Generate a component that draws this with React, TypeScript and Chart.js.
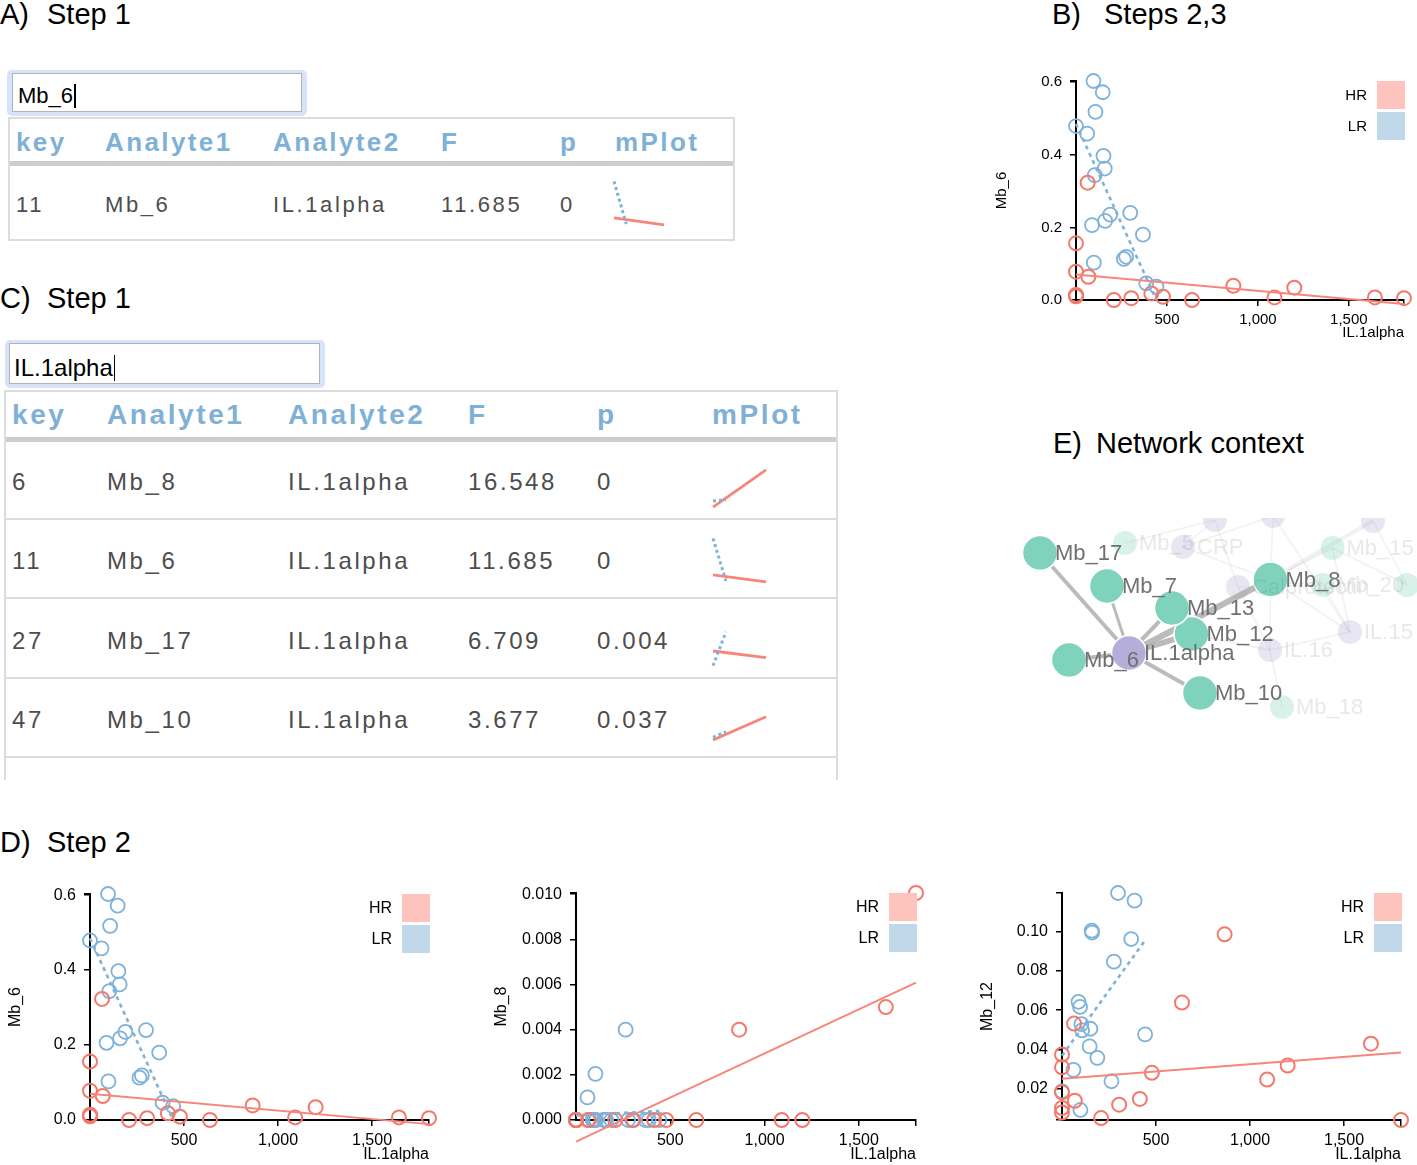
import React, { useEffect, useRef } from "react";
import { Chart, registerables } from "chart.js";
Chart.register(...registerables);

const FONT = '"Liberation Sans", Arial, Helvetica, sans-serif';
const HR_COLOR = "#f5796b";
const HR_LINE = "#f7857a";
const LR_COLOR = "#7fb2d9";
const HR_LEGEND = "#ffc3bd";
const LR_LEGEND = "#c1d7ea";

// ---------- scatter data: IL.1alpha (x) vs analytes, by group ----------
const IL1ALPHA_HR = [64, 0, 0, 68, 0, 0, 0, 208, 304, 414, 478, 638, 865, 1091, 1200, 1643, 1803];
const MB6_HR = [0.323, 0.156, 0.078, 0.064, 0.014, 0.012, 0.01, 0.0, 0.005, 0.018, 0.009, 0.0, 0.039, 0.007, 0.034, 0.007, 0.005];
const MB8_HR = [0, 0, 0, 0, 0, 0, 0, 0, 0, 0, 0, 0, 0.004, 0, 0, 0.005, 0.01005];
const MB12_HR = [0.0532, 0.0375, 0.031, 0.014, 0.0183, 0.0103, 0.008, 0.0052, 0.012, 0.0149, 0.0282, 0.0639, 0.0986, 0.0248, 0.0319, 0.043, 0.0042];

const IL1ALPHA_LR = [96, 147, 107, 0, 61, 151, 158, 103, 88, 160, 188, 298, 368, 263, 276, 98, 386, 442];
const MB6_LR = [0.603, 0.572, 0.518, 0.479, 0.458, 0.397, 0.362, 0.344, 0.206, 0.218, 0.235, 0.24, 0.18, 0.113, 0.119, 0.103, 0.046, 0.037];
const MB8_LR = [0, 0, 0, 0, 0.001, 0, 0, 0.00204, 0, 0, 0, 0, 0, 0.004, 0, 0, 0, 0];
const MB12_LR = [0.0617, 0.0416, 0.0498, 0.0188, 0.0297, 0.0506, 0.1005, 0.0529, 0.0643, 0.0995, 0.0358, 0.1196, 0.0962, 0.0239, 0.0847, 0.0093, 0.1157, 0.0477];

// regression lines (value at the low / high end of each group's IL.1alpha range)
const MB6_HR_FIT = [0.07, -0.011];
const MB6_LR_FIT = [0.485, 0.0];
const MB8_HR_FIT = [-0.00096, 0.00608];
const MB8_LR_FIT = [0.0002, 0.0004];
const MB12_HR_FIT = [0.0252, 0.0385];
const MB12_LR_FIT = [0.0369, 0.0955];
const MB17_HR_FIT = [0.17, 0.045];
const MB17_LR_FIT = [-0.11, 0.53];
const MB10_HR_FIT = [0.0, 0.44];
const MB10_LR_FIT = [0.05, 0.157];
const MB17_RANGE = [0, 1];
const MB10_RANGE = [0, 1];

// ticks
const X_TICKS = [500, 1000, 1500];
const MB6_TICKS = [0, 0.2, 0.4, 0.6];
const MB8_TICKS = [0, 0.002, 0.004, 0.006, 0.008, 0.01];
const MB12_TICKS = [0.02, 0.04, 0.06, 0.08, 0.1];

// ---------- tables ----------
const HEADERS = ["key", "Analyte1", "Analyte2", "F", "p", "mPlot"];
const A_ROW = ["11", "Mb_6", "IL.1alpha", "11.685", "0"];
const C_KEYS = ["6", "11", "27", "47"];
const C_ANALYTE1 = ["Mb_8", "Mb_6", "Mb_17", "Mb_10"];
const C_ANALYTE2 = ["IL.1alpha", "IL.1alpha", "IL.1alpha", "IL.1alpha"];
const C_F = ["16.548", "11.685", "6.709", "3.677"];
const C_P = ["0", "0", "0.004", "0.037"];

// ---------- network ----------
const NET_NODES = ["Mb_17", "Mb_7", "Mb_6", "IL.1alpha", "Mb_12", "Mb_13", "Mb_8", "Mb_10"];
const NET_X = [23, 90, 52, 112, 174.5, 155, 253.5, 183];
const NET_Y = [35, 68, 142, 135, 116, 90, 61.5, 175];
const NET_IS_IL = [false, false, false, true, false, false, false, false];
const NET_EDGE_TO = ["Mb_17", "Mb_7", "Mb_6", "Mb_13", "Mb_12", "Mb_8", "Mb_10"];
const NET_EDGE_W = [4, 3, 4, 4, 6, 6, 4];
const BG_IDS = ["Mb_5", "CRP", "n1", "n2", "n3", "Mb_15", "Calprotectin", "Mb_20", "n4", "IL.15", "IL.16", "Mb_18"];
const BG_LABELS = ["Mb_5", "CRP", "", "", "", "Mb_15", "Calprotectin", "Mb_20", "", "IL.15", "IL.16", "Mb_18"];
const BG_X = [108, 166, 198, 256, 356, 315.5, 221, 306, 390, 333, 253, 265];
const BG_Y = [25, 29, 2, -2, 3, 30, 69, 67, 67, 114, 132, 189];
const BG_IS_IL = [false, true, true, true, true, false, true, false, false, true, true, false];
const BG_EDGES = [
  ["CRP", "n1"], ["CRP", "n2"], ["CRP", "Mb_8"], ["n1", "Calprotectin"], ["n2", "Mb_8"],
  ["Mb_8", "n3"], ["Mb_8", "Mb_15"], ["Mb_8", "IL.15"], ["Mb_8", "IL.16"], ["Calprotectin", "IL.16"],
  ["Calprotectin", "Mb_20"], ["Mb_20", "IL.15"], ["Mb_15", "n4"], ["n3", "n4"], ["IL.16", "Mb_18"],
  ["IL.16", "IL.15"], ["Mb_12", "IL.16"], ["n2", "IL.15"], ["Mb_15", "IL.15"], ["Mb_5", "n1"],
];
const BG_EDGE_W = [1.5, 1.5, 1.5, 1.5, 1.5, 4, 1.5, 1.5, 1.5, 1.5, 1.5, 1.5, 1.5, 1.5, 1.5, 1.5, 2, 1.5, 1.5, 1.5];

const HR_RANGE = [Math.min(...IL1ALPHA_HR), Math.max(...IL1ALPHA_HR)];
const LR_RANGE = [Math.min(...IL1ALPHA_LR), Math.max(...IL1ALPHA_LR)];

const pts = (xs: number[], ys: number[]) => xs.map((x, i) => ({ x, y: ys[i] }));
const fitPts = (range: number[], ys: number[]) => [{ x: range[0], y: ys[0] }, { x: range[1], y: ys[1] }];
const near = (list: number[], v: number) => list.some((t) => Math.abs(t - v) < 1e-9);

function ScatterPanel(p: any) {
  const ref = useRef<HTMLCanvasElement>(null);
  const PL = 110, PR = 20, PT = 20, PB = 60;
  const L = Math.round(p.left), T = Math.round(p.top);
  const W = Math.round(p.right - p.left) + PL + PR;
  const H = Math.round(p.bottom - p.top) + PT + PB;
  useEffect(() => {
    const allX = [...IL1ALPHA_HR, ...IL1ALPHA_LR];
    const allY = [...p.hrY, ...p.lrY];
    const xMin = Math.min(...allX), xMax = Math.max(...allX);
    const yMin = Math.min(...allY), yMax = Math.max(...allY);
    const fs = p.fs;
    const decor = {
      id: "decor",
      afterDraw(chart: any) {
        const { ctx, chartArea: a } = chart;
        ctx.save();
        ctx.fillStyle = "#000";
        ctx.font = `${fs}px ${FONT}`;
        ctx.save();
        ctx.translate(a.left - 74, (a.top + a.bottom) / 2);
        ctx.rotate(-Math.PI / 2);
        ctx.textAlign = "center";
        ctx.textBaseline = "middle";
        ctx.fillText(p.yLabel, 0, 0);
        ctx.restore();
        ctx.textAlign = "right";
        ctx.textBaseline = "middle";
        ctx.fillText("IL.1alpha", a.right, a.bottom + p.xTitleDy);
        const sq = 28;
        const sx = a.right - sq + 1;
        const items: [string, string][] = [["HR", HR_LEGEND], ["LR", LR_LEGEND]];
        items.forEach(([lab, col], i) => {
          const sy = a.top + i * (sq + 3);
          ctx.fillStyle = col;
          ctx.fillRect(sx, sy, sq, sq);
          ctx.fillStyle = "#000";
          ctx.textAlign = "right";
          ctx.fillText(lab, sx - 10, sy + sq / 2 + 1);
        });
        ctx.restore();
      },
    };
    const chart = new Chart(ref.current as HTMLCanvasElement, {
      type: "scatter",
      data: {
        datasets: [
          { data: fitPts(LR_RANGE, p.lrFit), showLine: true, borderColor: LR_COLOR, borderWidth: 2.6, borderDash: [4, 4], pointRadius: 0, clip: false } as any,
          { data: fitPts(HR_RANGE, p.hrFit), showLine: true, borderColor: HR_LINE, borderWidth: 2, pointRadius: 0, clip: false } as any,
          { data: pts(IL1ALPHA_HR, p.hrY), pointRadius: 7, pointBorderWidth: 2, pointBorderColor: HR_COLOR, pointBackgroundColor: "rgba(0,0,0,0)", clip: false } as any,
          { data: pts(IL1ALPHA_LR, p.lrY), pointRadius: 7, pointBorderWidth: 1.8, pointBorderColor: LR_COLOR, pointBackgroundColor: "rgba(0,0,0,0)", clip: false } as any,
        ],
      },
      options: {
        animation: false,
        responsive: false,
        devicePixelRatio: 1,
        events: [],
        layout: { padding: { left: 0, top: PT, right: PR, bottom: 0 }, autoPadding: false } as any,
        plugins: { legend: { display: false }, tooltip: { enabled: false } },
        scales: {
          x: {
            type: "linear",
            position: "bottom",
            min: xMin,
            max: xMax,
            afterBuildTicks: (ax: any) => { ax.ticks = [...X_TICKS, xMax].map((v) => ({ value: v })); },
            afterFit: (ax: any) => { ax.height = PB; },
            ticks: {
              autoSkip: false, maxRotation: 0, padding: 5, color: "#000",
              font: { family: FONT, size: fs },
              callback: (v: any) => (near(X_TICKS, v) ? Number(v).toLocaleString("en-US") : ""),
            },
            grid: { drawOnChartArea: false, drawTicks: true, tickLength: 6, color: "#000", lineWidth: 1.5 },
            border: { display: true, color: "#000", width: 2 },
          } as any,
          y: {
            type: "linear",
            position: "left",
            min: yMin,
            max: yMax,
            afterBuildTicks: (ax: any) => { ax.ticks = [yMin, ...p.yTicks.filter((t: number) => t > yMin + 1e-9), yMax].map((v) => ({ value: v })); },
            afterFit: (ax: any) => { ax.width = PL; },
            ticks: {
              autoSkip: false, padding: 8, color: "#000",
              font: { family: FONT, size: fs },
              callback: (v: any) => (near(p.yTicks, v) ? Number(v).toFixed(p.digits) : ""),
            },
            grid: { drawOnChartArea: false, drawTicks: true, tickLength: 6, color: "#000", lineWidth: 1.5 },
            border: { display: true, color: "#000", width: 2 },
          } as any,
        },
      },
      plugins: [decor],
    } as any);
    return () => chart.destroy();
  }, []);
  return <canvas ref={ref} width={W} height={H} style={{ position: "absolute", left: L - PL, top: T - PT, width: W, height: H }} />;
}

function MiniPlot(p: any) {
  const ref = useRef<HTMLCanvasElement>(null);
  const P = 12;
  useEffect(() => {
    const chart = new Chart(ref.current as HTMLCanvasElement, {
      type: "scatter",
      data: {
        datasets: [
          { data: fitPts(LR_RANGE, p.lrFit), showLine: true, borderColor: LR_COLOR, borderWidth: 3, borderDash: [3, 3], pointRadius: 0, clip: false } as any,
          { data: fitPts(HR_RANGE, p.hrFit), showLine: true, borderColor: HR_LINE, borderWidth: 2.8, pointRadius: 0, clip: false } as any,
        ],
      },
      options: {
        animation: false, responsive: false, devicePixelRatio: 1, events: [],
        layout: { padding: P, autoPadding: false } as any,
        scales: {
          x: { type: "linear", min: HR_RANGE[0], max: HR_RANGE[1], display: false },
          y: { type: "linear", min: p.yMin, max: p.yMax, display: false },
        },
        plugins: { legend: { display: false }, tooltip: { enabled: false } },
      },
    } as any);
    return () => chart.destroy();
  }, []);
  return <canvas ref={ref} width={p.width + 2 * P} height={p.height + 2 * P} style={{ position: "absolute", left: p.left - P, top: p.top - P }} />;
}

function Network() {
  const ref = useRef<HTMLCanvasElement>(null);
  useEffect(() => {
    const pos: Record<string, { x: number; y: number }> = {};
    NET_NODES.forEach((n, i) => (pos[n] = { x: NET_X[i], y: NET_Y[i] }));
    BG_IDS.forEach((n, i) => (pos[n] = { x: BG_X[i], y: BG_Y[i] }));
    const datasets: any[] = [];
    datasets.push({
      data: pts(NET_X, NET_Y), order: 0, pointRadius: 17.5, pointBorderWidth: 1.5, pointBorderColor: "#ffffff",
      pointBackgroundColor: NET_IS_IL.map((il) => (il ? "#b5aed9" : "#7fd3bc")),
    });
    NET_EDGE_TO.forEach((to, i) => {
      datasets.push({ data: [pos["IL.1alpha"], pos[to]], order: 1, showLine: true, pointRadius: 0, borderWidth: NET_EDGE_W[i], borderColor: "rgba(170,170,170,0.8)" });
    });
    datasets.push({
      data: pts(BG_X, BG_Y), order: 2, pointRadius: 12, pointBorderWidth: 0,
      pointBackgroundColor: BG_IS_IL.map((il) => (il ? "rgba(180,172,214,0.3)" : "rgba(127,211,187,0.3)")),
    });
    BG_EDGES.forEach(([a, b], i) => {
      datasets.push({ data: [pos[a], pos[b]], order: 3, showLine: true, pointRadius: 0, borderWidth: BG_EDGE_W[i], borderColor: "rgba(160,160,160,0.15)" });
    });
    const labels = {
      id: "netLabels",
      afterDatasetsDraw(chart: any) {
        const { ctx } = chart;
        const sx = chart.scales.x, sy = chart.scales.y;
        ctx.save();
        ctx.font = `22px ${FONT}`;
        ctx.textAlign = "left";
        ctx.textBaseline = "middle";
        ctx.fillStyle = "rgba(110,110,110,0.16)";
        BG_LABELS.forEach((l, i) => {
          if (!l) return;
          ctx.fillText(l, sx.getPixelForValue(BG_X[i]) + 14, sy.getPixelForValue(BG_Y[i]) + 1);
        });
        ctx.fillStyle = "#707070";
        NET_NODES.forEach((l, i) => {
          ctx.fillText(l, sx.getPixelForValue(NET_X[i]) + 15, sy.getPixelForValue(NET_Y[i]) + 1);
        });
        ctx.restore();
      },
    };
    const chart = new Chart(ref.current as HTMLCanvasElement, {
      type: "scatter",
      data: { datasets },
      options: {
        animation: false, responsive: false, devicePixelRatio: 1, events: [],
        layout: { padding: 0, autoPadding: false } as any,
        scales: {
          x: { type: "linear", min: 0, max: 400, display: false },
          y: { type: "linear", min: 0, max: 215, reverse: true, display: false },
        },
        plugins: { legend: { display: false }, tooltip: { enabled: false } },
      },
      plugins: [labels],
    } as any);
    return () => chart.destroy();
  }, []);
  return <canvas ref={ref} width={400} height={215} style={{ position: "absolute", left: 1017, top: 518 }} />;
}

function Txt(p: any) {
  const size = p.size;
  return (
    <div
      style={{
        position: "absolute", left: p.x, top: p.base - 0.8465 * size, fontSize: size, lineHeight: `${size}px`,
        fontWeight: p.bold ? "bold" : "normal", color: p.color || "#000", letterSpacing: p.ls ? `${p.ls}px` : undefined,
        whiteSpace: "nowrap", fontFamily: FONT,
      }}
    >
      {p.children}
    </div>
  );
}

function Title(p: any) {
  return (
    <>
      <Txt x={p.x} base={p.base} size={29}>{p.letter}</Txt>
      <Txt x={p.x2} base={p.base} size={29}>{p.text}</Txt>
    </>
  );
}

function SearchBox(p: any) {
  return (
    <>
      <div style={{ position: "absolute", left: p.ox, top: p.oy, width: p.ow, height: p.oh, background: "#d7e3f8", borderRadius: 5 }} />
      <div style={{ position: "absolute", left: p.ix, top: p.iy, width: p.iw, height: p.ih, background: "#fff", border: "1px solid #b3b3b3", boxSizing: "border-box" }} />
      <div style={{ position: "absolute", left: p.tx, top: p.base - 0.8465 * p.size, fontSize: p.size, lineHeight: `${p.size}px`, fontFamily: FONT, color: "#000", whiteSpace: "nowrap" }}>
        {p.text}
        <span style={{ display: "inline-block", width: 1.5, height: p.size + 2, background: "#000", verticalAlign: -5, marginLeft: 1 }} />
      </div>
    </>
  );
}

const HEAD_COLOR = "#7fb1d7";
const BODY_COLOR = "#4d4d4d";

export default function App() {
  const aCols = [16, 105, 273, 441, 560, 615];
  const cCols = [12, 107, 288, 468, 597, 712];
  const cBase = [490, 569, 649, 728];
  const cMiniTop = [449, 528, 607, 687];
  const cMini = [
    { hr: MB8_HR_FIT, lr: MB8_LR_FIT, yMin: Math.min(...MB8_HR, ...MB8_LR), yMax: Math.max(...MB8_HR, ...MB8_LR) },
    { hr: MB6_HR_FIT, lr: MB6_LR_FIT, yMin: Math.min(...MB6_HR, ...MB6_LR), yMax: Math.max(...MB6_HR, ...MB6_LR) },
    { hr: MB17_HR_FIT, lr: MB17_LR_FIT, yMin: MB17_RANGE[0], yMax: MB17_RANGE[1] },
    { hr: MB10_HR_FIT, lr: MB10_LR_FIT, yMin: MB10_RANGE[0], yMax: MB10_RANGE[1] },
  ];
  return (
    <div style={{ position: "absolute", left: 0, top: 0, width: 1417, height: 1165, overflow: "hidden", background: "#fff", fontFamily: FONT }}>
      <Title x={0} x2={47} base={25} letter="A)" text="Step 1" />
      <Title x={1052} x2={1104} base={25} letter="B)" text="Steps 2,3" />
      <Title x={0} x2={47} base={309} letter="C)" text="Step 1" />
      <Title x={1053} x2={1096} base={454} letter="E)" text="Network context" />
      <Title x={0} x2={47} base={853} letter="D)" text="Step 2" />

      {/* A: search + table */}
      <SearchBox ox={7} oy={70} ow={300} oh={46} ix={12} iy={73} iw={290} ih={39} tx={18} base={103} size={22} text="Mb_6" />
      <div style={{ position: "absolute", left: 8, top: 117, width: 727, height: 124, border: "2px solid #dcdcdc", boxSizing: "border-box" }} />
      <div style={{ position: "absolute", left: 10, top: 161, width: 723, height: 5, background: "#cdcdcd" }} />
      {HEADERS.map((h, i) => (
        <Txt key={"ah" + i} x={aCols[i]} base={151} size={26} bold color={HEAD_COLOR} ls={2.4}>{h}</Txt>
      ))}
      {A_ROW.map((v, i) => (
        <Txt key={"ar" + i} x={aCols[i]} base={213} size={22} color={BODY_COLOR} ls={2.6}>{v}</Txt>
      ))}
      <MiniPlot left={614} top={171} width={50} height={53} hrFit={MB6_HR_FIT} lrFit={MB6_LR_FIT}
        yMin={Math.min(...MB6_HR, ...MB6_LR)} yMax={Math.max(...MB6_HR, ...MB6_LR)} />

      {/* C: search + table */}
      <SearchBox ox={5} oy={340} ow={320} oh={48} ix={9} iy={343} iw={311} ih={41} tx={14} base={375} size={24} text="IL.1alpha" />
      <div style={{ position: "absolute", left: 4, top: 390, width: 834, height: 390, borderTop: "2px solid #dcdcdc", borderLeft: "2px solid #dcdcdc", borderRight: "2px solid #dcdcdc", boxSizing: "border-box" }} />
      <div style={{ position: "absolute", left: 6, top: 437, width: 830, height: 5, background: "#cdcdcd" }} />
      {[518, 597, 677, 756].map((y, i) => (
        <div key={"sep" + i} style={{ position: "absolute", left: 6, top: y, width: 830, height: 2, background: "#dcdcdc" }} />
      ))}
      {HEADERS.map((h, i) => (
        <Txt key={"ch" + i} x={cCols[i]} base={425} size={28} bold color={HEAD_COLOR} ls={2.6}>{h}</Txt>
      ))}
      {C_KEYS.map((k, r) => {
        const vals = [k, C_ANALYTE1[r], C_ANALYTE2[r], C_F[r], C_P[r]];
        return vals.map((v, i) => (
          <Txt key={"c" + r + "_" + i} x={cCols[i]} base={cBase[r]} size={24} color={BODY_COLOR} ls={2.6}>{v}</Txt>
        ));
      })}
      {cMini.map((m, r) => (
        <MiniPlot key={"mini" + r} left={713} top={cMiniTop[r]} width={53} height={53} hrFit={m.hr} lrFit={m.lr} yMin={m.yMin} yMax={m.yMax} />
      ))}

      {/* B */}
      <ScatterPanel left={1076} top={81} right={1404} bottom={300} fs={15} xTitleDy={33}
        hrY={MB6_HR} lrY={MB6_LR} hrFit={MB6_HR_FIT} lrFit={MB6_LR_FIT} yTicks={MB6_TICKS} digits={1} yLabel="Mb_6" />

      {/* E */}
      <Network />

      {/* D */}
      <ScatterPanel left={90} top={894} right={429} bottom={1120} fs={16} xTitleDy={35}
        hrY={MB6_HR} lrY={MB6_LR} hrFit={MB6_HR_FIT} lrFit={MB6_LR_FIT} yTicks={MB6_TICKS} digits={1} yLabel="Mb_6" />
      <ScatterPanel left={576} top={893} right={916} bottom={1120} fs={16} xTitleDy={35}
        hrY={MB8_HR} lrY={MB8_LR} hrFit={MB8_HR_FIT} lrFit={MB8_LR_FIT} yTicks={MB8_TICKS} digits={3} yLabel="Mb_8" />
      <ScatterPanel left={1062} top={893} right={1401} bottom={1120} fs={16} xTitleDy={35}
        hrY={MB12_HR} lrY={MB12_LR} hrFit={MB12_HR_FIT} lrFit={MB12_LR_FIT} yTicks={MB12_TICKS} digits={2} yLabel="Mb_12" />
    </div>
  );
}
